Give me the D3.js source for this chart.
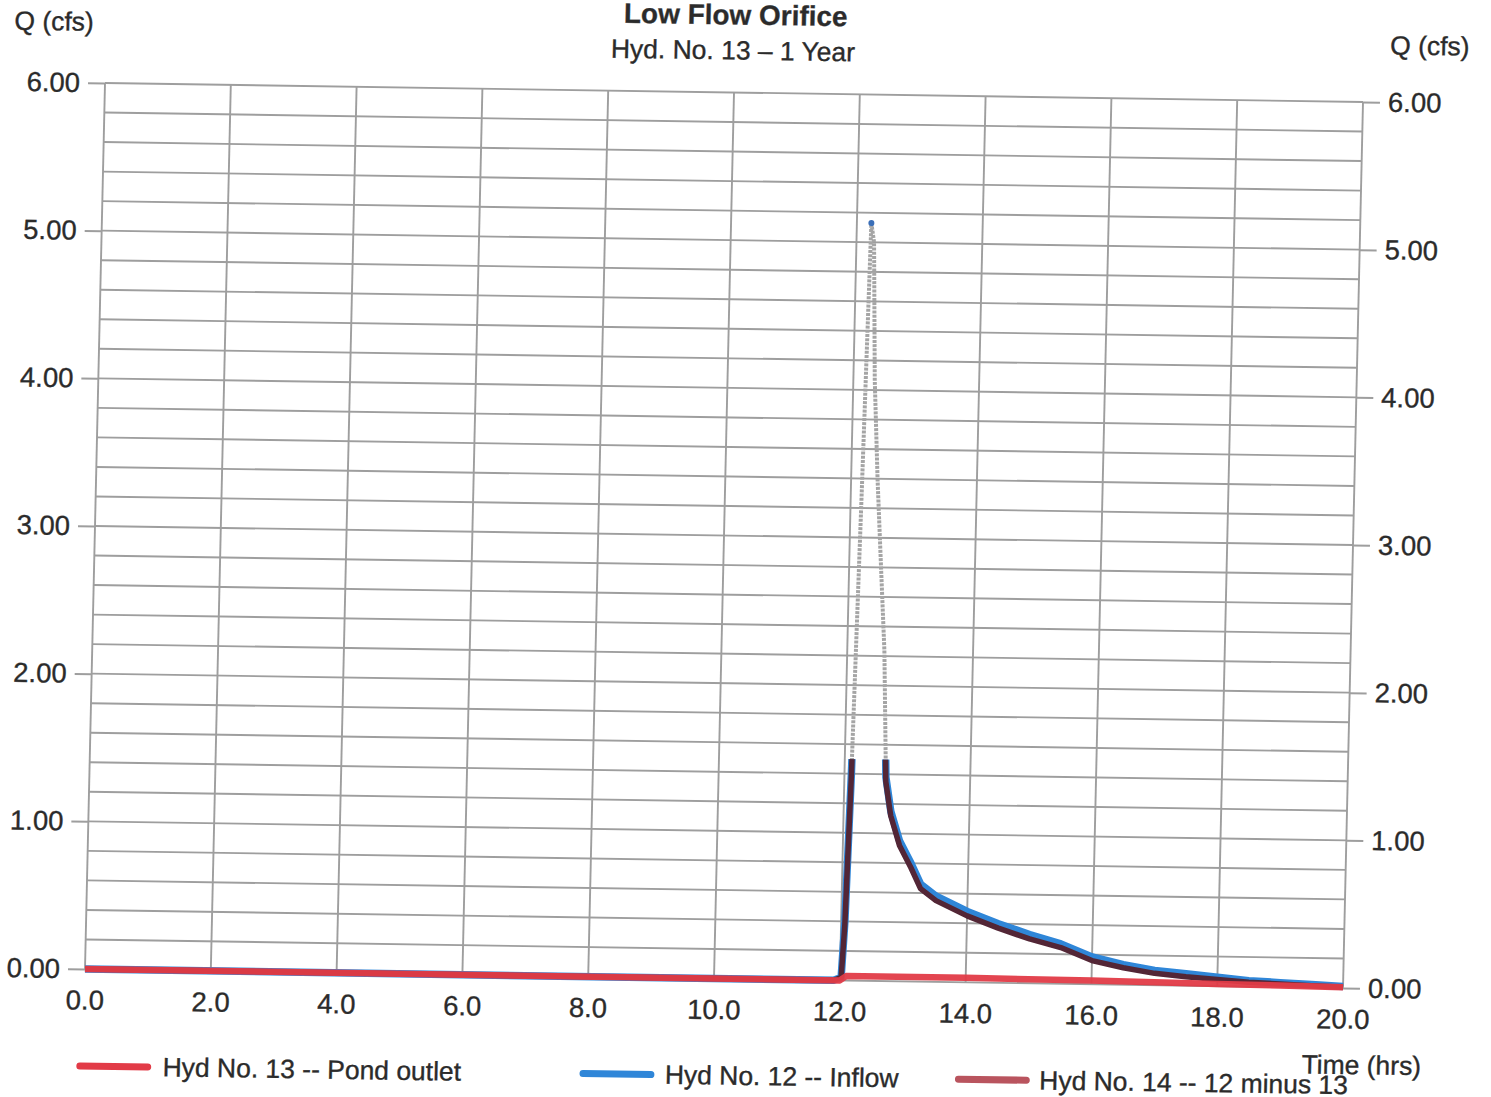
<!DOCTYPE html>
<html><head><meta charset="utf-8">
<script src="https://cdn.jsdelivr.net/npm/d3@7"></script>
<style>body{margin:0;background:#fff}svg{display:block}text{font-family:"Liberation Sans",Arial,sans-serif;fill:#2b2b2b;stroke:#2b2b2b;stroke-width:0.35px}</style>
</head><body><svg id="c" width="1491" height="1097"></svg>
<script>
const title = "Low Flow Orifice";
const subtitle = "Hyd. No. 13 \u2013 1 Year";
const yTicks = [0, 1, 2, 3, 4, 5, 6];
const xTicks = [0, 2, 4, 6, 8, 10, 12, 14, 16, 18, 20];
const seriesNames = ["Hyd No. 13 -- Pond outlet", "Hyd No. 12 -- Inflow", "Hyd No. 14 -- 12 minus 13"];
// time (hrs)
const inflowT = [0, 11.9, 12.02, 12.06, 12.11, 12.17, 12.23, 12.28, 12.34, 12.42, 12.5, 12.59, 12.66, 12.75, 12.9, 13.09, 13.25, 13.5, 14.0, 14.5, 15.0, 15.5, 16.0, 16.5, 17.0, 17.5, 18.0, 18.5, 19.0, 19.5, 20.0];
const inflowQ = [0, 0, 0.02, 0.4, 1.4, 3.2, 5.13, 5.0, 4.07, 3.4, 2.85, 2.24, 1.38, 1.15, 0.95, 0.8, 0.66, 0.58, 0.48, 0.4, 0.33, 0.27, 0.185, 0.135, 0.1, 0.08, 0.06, 0.04, 0.03, 0.02, 0.01];
const diffQ = [0, 0, 0.02, 0.38, 1.37, 3.17, 5.1, 4.97, 4.04, 3.37, 2.82, 2.21, 1.35, 1.12, 0.92, 0.77, 0.63, 0.55, 0.45, 0.37, 0.3, 0.245, 0.16, 0.115, 0.08, 0.06, 0.045, 0.03, 0.02, 0.012, 0.005];
const outletT = [0, 12.0, 12.1, 14.0, 16.0, 17.0, 18.0, 19.0, 20.0];
const outletQ = [0, 0, 0.03, 0.03, 0.025, 0.02, 0.015, 0.01, 0.005];

const W = 1260, H = 886;
const svg = d3.select("#c");
const g = svg.append("g").attr("transform", `matrix(${1258/W},${19/W},${-20/H},1,105,83)`);
const x = d3.scaleLinear().domain([0, 20]).range([0, W]);
const y = d3.scaleLinear().domain([0, 6]).range([H, 0]);

// grid
const minor = d3.range(0, 6.0001, 0.2);
g.append("g").selectAll("line").data(minor).join("line")
  .attr("x1", 0).attr("x2", W).attr("y1", d => y(d)).attr("y2", d => y(d))
  .attr("stroke", "#9e9e9e").attr("stroke-width", 1.9);
g.append("g").selectAll("line").data(xTicks).join("line")
  .attr("x1", d => x(d)).attr("x2", d => x(d)).attr("y1", 0).attr("y2", H)
  .attr("stroke", "#9e9e9e").attr("stroke-width", 1.9);

// axes
const yl = g.append("g").call(d3.axisLeft(y).tickValues(yTicks).tickFormat(d3.format(".2f")).tickSize(17).tickPadding(8));
const yr = g.append("g").attr("transform", `translate(${W},0)`).call(d3.axisRight(y).tickValues(yTicks).tickFormat(d3.format(".2f")).tickSize(17).tickPadding(8));
const xb = g.append("g").attr("transform", `translate(0,${H})`).call(d3.axisBottom(x).tickValues(xTicks).tickFormat(d3.format(".1f")).tickSize(0).tickPadding(21));
[yl, yr, xb].forEach(a => {
  a.select(".domain").remove();
  a.selectAll(".tick line").attr("stroke", "#9e9e9e").attr("stroke-width", 2);
  a.selectAll(".tick text").style("font-size", "27.5px").style("font-family", "Liberation Sans, Arial, sans-serif").attr("fill", "#2b2b2b");
});

// clip for solid coloured part
const defs = svg.append("defs");
defs.append("clipPath").attr("id", "low").append("rect").attr("x", -5).attr("y", y(1.5)).attr("width", W + 10).attr("height", H - y(1.5) + 10);
defs.append("clipPath").attr("id", "high").append("rect").attr("x", -5).attr("y", -20).attr("width", W + 10).attr("height", y(1.5) + 20);

const line = d3.line().x(d => x(d[0])).y(d => y(d[1]));
const inflow = inflowT.map((t, i) => [t, inflowQ[i]]);
const diff = inflowT.map((t, i) => [t, diffQ[i]]);
const outlet = outletT.map((t, i) => [t, outletQ[i]]);

const colRed = "#e23b47", colBlue = "#2f86d8", colDark = "#532636", colMaroon = "#b9545e";
const lo = g.append("g").attr("clip-path", "url(#low)");
lo.append("path").datum(inflow).attr("d", line).attr("fill", "none").attr("stroke", colBlue).attr("stroke-width", 7.5).attr("stroke-linejoin", "round");
lo.append("path").datum(diff).attr("d", line).attr("fill", "none").attr("stroke", colDark).attr("stroke-width", 5.5).attr("stroke-linejoin", "round");
const hi = g.append("g").attr("clip-path", "url(#high)");
hi.append("path").datum(inflow).attr("d", line).attr("fill", "none").attr("stroke", "#a5a5a5").attr("stroke-width", 4).attr("stroke-dasharray", "3 1.2").attr("stroke-linejoin", "round");
g.append("path").datum(outlet).attr("d", line).attr("fill", "none").attr("stroke", colRed).attr("stroke-width", 6.5).attr("stroke-linejoin", "round").attr("opacity", 0.95);
const peak = inflow[d3.maxIndex(inflow, d => d[1])];
g.append("circle").attr("cx", x(peak[0])).attr("cy", y(peak[1])).attr("r", 3).attr("fill", "#3b6fb8");

// titles
g.append("text").attr("x", 630).attr("y", -68).attr("text-anchor", "middle").style("font-size", "28px").style("font-weight", "bold").attr("fill", "#444").style("stroke", "#444").text(title);
g.append("text").attr("x", 628).attr("y", -33).attr("text-anchor", "middle").style("font-size", "26.5px").text(subtitle);
g.append("text").attr("x", -92).attr("y", -52).style("font-size", "26.5px").text("Q (cfs)");
g.append("text").attr("x", W + 26).attr("y", -48).style("font-size", "26.5px").text("Q (cfs)");
g.append("text").attr("x", W + 80).attr("y", H + 86).attr("text-anchor", "end").style("font-size", "26.5px").text("Time (hrs)");

// legend
const leg = [
  {name: seriesNames[0], col: colRed, u: -3, tu: 80},
  {name: seriesNames[1], col: colBlue, u: 501, tu: 583},
  {name: seriesNames[2], col: colMaroon, u: 877, tu: 958}
];
const lg = g.append("g").selectAll("g").data(leg).join("g");
lg.append("line").attr("x1", d => d.u).attr("x2", d => d.u + 68).attr("y1", H + 97).attr("y2", H + 97)
  .attr("stroke", d => d.col).attr("stroke-width", 7).attr("stroke-linecap", "round");
lg.append("text").attr("x", d => d.tu).attr("y", H + 106).style("font-size", "26.5px").text(d => d.name);
</script></body></html>
